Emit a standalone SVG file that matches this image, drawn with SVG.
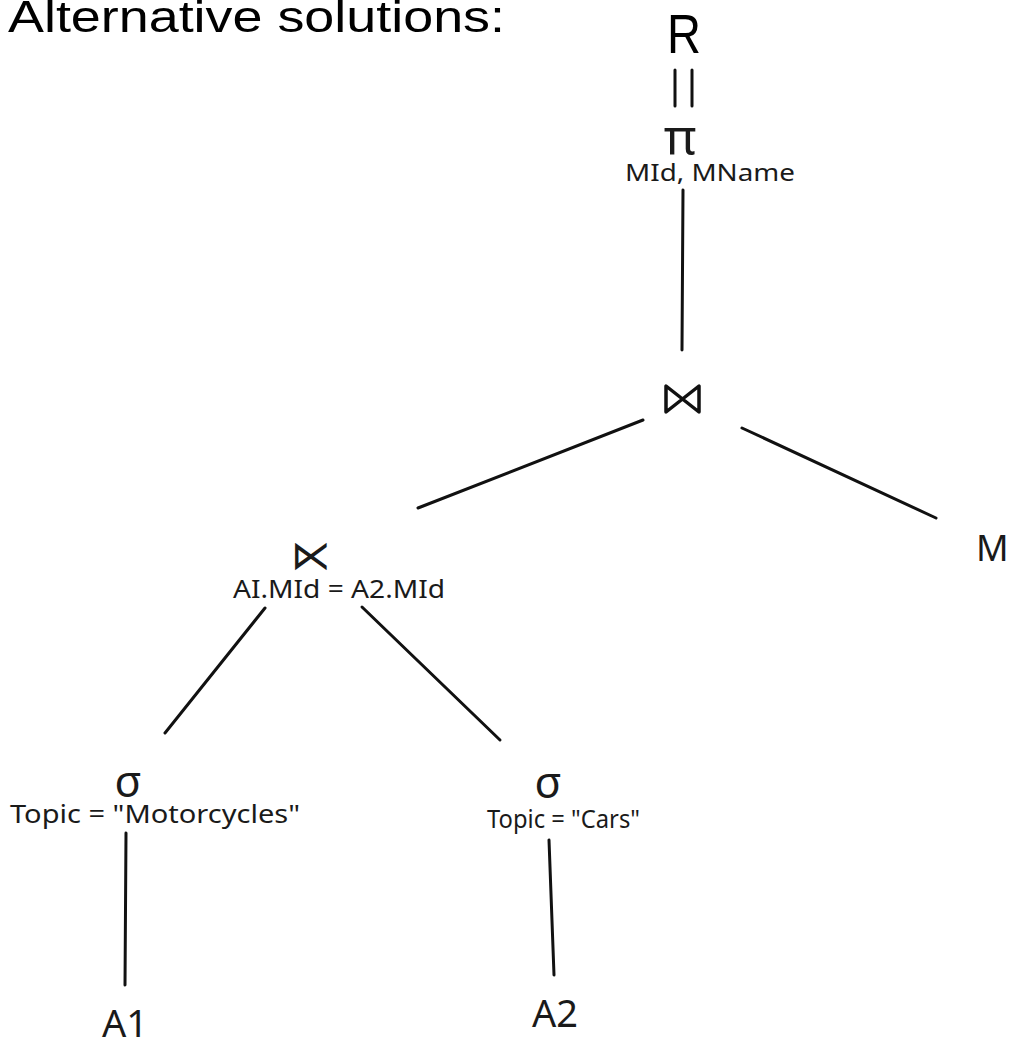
<svg xmlns="http://www.w3.org/2000/svg" width="1014" height="1043" viewBox="0 0 1014 1043">
<style>
.t{font-family:"Noto Sans","Open Sans",sans-serif;fill:#1a1a1a}
.sym{font-family:"DejaVu Sans",sans-serif;fill:#1a1a1a}
.e{stroke:#111;stroke-width:3;stroke-linecap:round;fill:none}
</style>
<rect width="1014" height="1043" fill="#fff"/>
<text x="8" y="32" font-family="Liberation Sans, Open Sans, sans-serif" font-size="44" textLength="497" lengthAdjust="spacingAndGlyphs" fill="#000">Alternative solutions:</text>
<g id="result">
<text x="684" y="53" font-family="Liberation Sans, sans-serif" font-size="55" text-anchor="middle" textLength="34" lengthAdjust="spacingAndGlyphs" fill="#000">R</text>
<line class="e" x1="675" y1="70" x2="675" y2="106"/>
<line class="e" x1="692" y1="70" x2="692" y2="106"/>
</g>
<g id="projection">
<text class="t" x="680" y="155" font-size="50" text-anchor="middle">π</text>
<text class="t" x="625" y="181" font-size="23" textLength="170" lengthAdjust="spacingAndGlyphs">MId, MName</text>
</g>
<g id="join">
<path d="M666,386 L666,412 L699,386 L699,412 Z" fill="none" stroke="#111" stroke-width="3.5" stroke-linejoin="round"/>
</g>
<g id="semijoin">
<text class="sym" x="311" y="569" font-size="40" text-anchor="middle">⋉</text>
<text class="t" x="233" y="598" font-size="26" textLength="212" lengthAdjust="spacingAndGlyphs">AI.MId = A2.MId</text>
</g>
<g id="M">
<text class="t" x="976" y="561" font-size="36">M</text>
</g>
<g id="select1">
<text class="t" x="128" y="797" font-size="44" text-anchor="middle">σ</text>
<text class="t" x="10" y="823" font-size="25" textLength="290" lengthAdjust="spacingAndGlyphs">Topic = "Motorcycles"</text>
</g>
<g id="select2">
<text class="t" x="548" y="798" font-size="44" text-anchor="middle">σ</text>
<text class="t" x="487" y="828" font-size="25" textLength="153" lengthAdjust="spacingAndGlyphs">Topic = "Cars"</text>
</g>
<g id="A1">
<text class="t" x="125" y="1037" font-size="38" text-anchor="middle">A1</text>
</g>
<g id="A2">
<text class="t" x="555" y="1027" font-size="38" text-anchor="middle">A2</text>
</g>
<g id="connectors">
<line class="e" x1="683" y1="190" x2="682" y2="350"/>
<line class="e" x1="643" y1="420" x2="418" y2="508"/>
<line class="e" x1="742" y1="428" x2="936" y2="518"/>
<line class="e" x1="265" y1="608" x2="165" y2="733"/>
<line class="e" x1="362" y1="607" x2="500" y2="740"/>
<line class="e" x1="126" y1="833" x2="125" y2="985"/>
<line class="e" x1="549" y1="840" x2="554" y2="975"/>
</g>
</svg>
